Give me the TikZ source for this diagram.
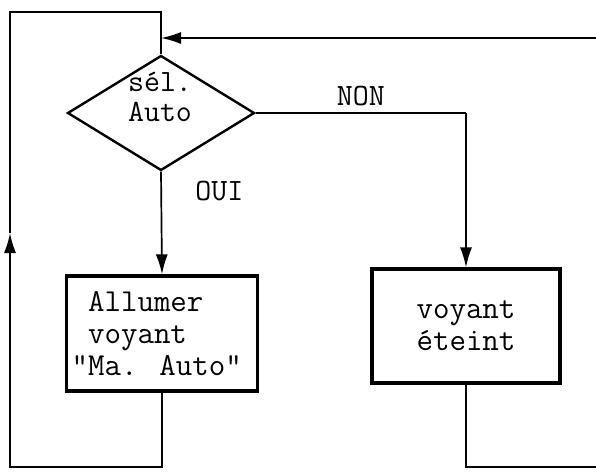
\documentclass[tikz,border=0pt]{standalone}
\usepackage{fontspec}
\usetikzlibrary{positioning, arrows.meta, shapes.geometric}

\begin{document}
\begin{tikzpicture}[x=1pt, y=-1pt,
      flow/.style={line width=1.7pt},
      arr/.style={flow, -{Latex[length=20pt, width=12pt]}},
      box/.style={draw, line width=3.2pt, minimum width=191pt, minimum height=115pt, align=left,
                  font=\ttfamily\fontsize{32}{32}\selectfont},
      dec/.style={draw, diamond, line width=2.4pt, minimum width=187pt, minimum height=115pt,
                  inner sep=0pt, shape aspect=1.6},
      lbl/.style={font=\ttfamily\fontsize{31}{30}\selectfont, align=center}]
    \useasboundingbox (0,0) rectangle (596,471);
    % decision and actions
    \node[dec] (selauto) at (161,113) {};
    \node[lbl, inner sep=0pt] (seltxt) at (160,97) {sél.\\Auto};
    \node[box] (allumer) at (162,333.5) {\hspace*{6pt}Allumer\\\hspace*{6pt}voyant\\\hspace*{6pt}\llap{“}Ma. Auto”};
    \node[box, minimum width=188pt, minimum height=114pt, align=center] (eteint) at (466,326) {voyant\\éteint};
    % turning points
    \coordinate (topright) at (596,38);
    \coordinate (join) at (selauto.north |- topright);
    \coordinate (nonturn) at (eteint.north |- selauto.east);
    \coordinate (loopA) at (allumer.south |- 0,467);
    \coordinate (loopL) at (10,467);
    \coordinate (loopArr) at (10,233);
    \coordinate (loopTL) at (10,12);
    \coordinate (loopTR) at (selauto.north |- 0,12);
    \coordinate (loopB) at (eteint.south |- 0,467);
    \coordinate (botright) at (596,467);
    % connectors
    \draw[arr] (selauto.south) -- node[lbl, pos=0.19, right=30pt]{OUI} (allumer.north);
    \draw[flow] (selauto.east) -- node[lbl, above=3pt]{NON} (nonturn);
    \draw[arr] (nonturn) -- (eteint.north);
    \draw[arr] (topright) -- (join);
    \draw[arr] (allumer.south) -- (loopA) -- (loopL) -- (loopArr);
    \draw[flow] (loopArr) -- (loopTL) -- (loopTR) -- (selauto.north);
    \draw[flow] (eteint.south) -- (loopB) -- (botright);
  \end{tikzpicture}
\end{document}
